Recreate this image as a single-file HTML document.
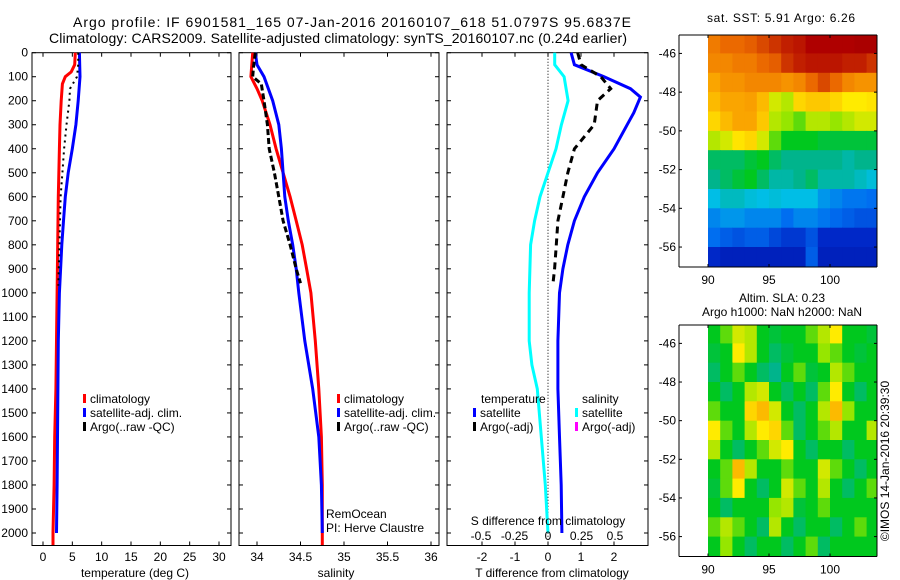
<!DOCTYPE html>
<html><head><meta charset="utf-8"><style>
html,body{margin:0;padding:0;background:#fff}
svg{display:block;font-family:"Liberation Sans",sans-serif}
</style></head><body>
<svg id="fig" width="900" height="580" viewBox="0 0 900 580" xmlns="http://www.w3.org/2000/svg">
<text x="352" y="27" text-anchor="middle" font-size="14" textLength="558">Argo profile: IF 6901581_165 07-Jan-2016 20160107_618 51.0797S 95.6837E</text>
<text x="338" y="43" text-anchor="middle" font-size="14" textLength="578">Climatology: CARS2009. Satellite-adjusted climatology: synTS_20160107.nc (0.24d earlier)</text>
<text x="781" y="22" text-anchor="middle" font-size="12" textLength="148">sat. SST: 5.91 Argo: 6.26</text>
<text x="782" y="302" text-anchor="middle" font-size="12">Altim. SLA: 0.23</text>
<text x="782" y="316" text-anchor="middle" font-size="12">Argo h1000: NaN h2000: NaN</text>
<text x="0" y="0" transform="translate(889,461) rotate(-90)" text-anchor="middle" font-size="12">©IMOS 14-Jan-2016 20:39:30</text>
<g id="g"></g>
</svg>
<script>
// ---- data ----
const depthTicks=[0,100,200,300,400,500,600,700,800,900,1000,1100,1200,1300,1400,1500,1600,1700,1800,1900,2000];
const tempTicks=[0,5,10,15,20,25,30];
const salTicks=[34,34.5,35,35.5,36];
const salTickLabels=["34","34.5","35","35.5","36"];
const tdTicks=[-2,-1,0,1,2];
const sdTicks=[-0.5,-0.25,0,0.25,0.5];
const sdTickLabels=["-0.5","-0.25","0","0.25","0.5"];
const climTempDepth=[0,50,80,100,130,200,300,400,600,800,1000,1200,1400,1600,1800,2000,2050];
const climTemp=[5.5,5.4,4.8,3.8,3.3,3.1,2.9,2.8,2.6,2.5,2.4,2.3,2.2,2.0,1.9,1.7,1.7];
const satTempDepth=[0,100,200,300,400,500,600,700,800,1000,1200,1500,1800,2000];
const satTemp=[6.2,6.3,6.0,5.6,5.0,4.3,3.8,3.5,3.2,2.8,2.6,2.5,2.4,2.3];
const argoTempDepth=[0,50,100,150,200,300,400,500,600,800,970];
const argoTemp=[6.0,6.0,5.8,4.6,4.5,4.0,3.6,3.3,3.0,2.8,2.6];
const climSalDepth=[0,100,150,200,300,400,500,600,700,800,900,1000,1200,1400,1600,1800,2050];
const climSal=[33.95,33.93,34.0,34.06,34.15,34.22,34.3,34.38,34.45,34.52,34.57,34.62,34.67,34.71,34.74,34.75,34.75];
const satSalDepth=[0,50,100,200,300,400,500,600,700,800,900,1000,1200,1400,1600,1800,2000];
const satSal=[33.98,34.0,34.08,34.18,34.25,34.28,34.3,34.32,34.36,34.41,34.45,34.48,34.55,34.64,34.71,34.74,34.75];
const argoSalDepth=[0,60,100,130,200,300,400,500,600,700,800,900,960];
const argoSal=[33.98,33.96,33.95,34.05,34.08,34.12,34.14,34.2,34.25,34.3,34.38,34.45,34.5];
const tdSatDepth=[0,50,100,150,185,250,300,400,500,600,700,800,900,1000,1200,1400,1600,1800,2000];
const tdSat=[0.7,0.8,1.7,2.5,2.8,2.6,2.4,2.0,1.5,1.1,0.8,0.6,0.45,0.35,0.3,0.3,0.35,0.4,0.42];
const tdArgoDepth=[0,50,100,150,200,300,400,500,600,700,800,900,960];
const tdArgo=[0.9,1.0,1.6,1.9,1.5,1.4,0.8,0.6,0.45,0.3,0.25,0.2,0.15];
const sdSatDepth=[0,50,100,200,300,400,500,600,700,800,1000,1200,1300,1400,1600,1800,2000];
const sdSat=[0.05,0.05,0.12,0.15,0.1,0.06,0.0,-0.06,-0.1,-0.13,-0.14,-0.14,-0.12,-0.08,-0.05,-0.02,0.0];
const latTicks=[-46,-48,-50,-52,-54,-56];
const lonTicks=[90,95,100];
const gridLats=[-45,-46,-47,-48,-49,-50,-51,-52,-53,-54,-55,-56];
const gridLons=[90,91,92,93,94,95,96,97,98,99,100,101,102,103];
const sstValues=[
[0.82,0.85,0.85,0.86,0.88,0.9,0.92,0.93,0.95,0.95,0.95,0.95,0.96,0.96],
[0.8,0.8,0.82,0.82,0.85,0.86,0.9,0.92,0.93,0.93,0.93,0.92,0.92,0.9],
[0.75,0.78,0.78,0.8,0.8,0.8,0.78,0.8,0.85,0.88,0.85,0.8,0.78,0.78],
[0.72,0.75,0.75,0.76,0.72,0.62,0.6,0.68,0.7,0.7,0.68,0.65,0.65,0.66],
[0.68,0.72,0.75,0.75,0.7,0.6,0.58,0.55,0.6,0.6,0.58,0.6,0.62,0.62],
[0.6,0.62,0.66,0.68,0.62,0.55,0.5,0.5,0.5,0.48,0.48,0.48,0.48,0.48],
[0.45,0.45,0.45,0.48,0.5,0.45,0.42,0.42,0.42,0.42,0.42,0.4,0.42,0.42],
[0.42,0.45,0.48,0.5,0.45,0.4,0.4,0.42,0.45,0.4,0.4,0.4,0.38,0.36],
[0.35,0.38,0.38,0.36,0.35,0.36,0.35,0.35,0.35,0.3,0.28,0.26,0.26,0.25],
[0.28,0.3,0.3,0.28,0.28,0.28,0.25,0.28,0.28,0.26,0.24,0.22,0.2,0.2],
[0.25,0.22,0.2,0.22,0.22,0.18,0.15,0.15,0.2,0.12,0.12,0.12,0.12,0.12],
[0.12,0.1,0.1,0.1,0.1,0.1,0.1,0.1,0.22,0.1,0.1,0.1,0.1,0.1]];
const slaValues=[
[0.5,0.55,0.62,0.6,0.5,0.48,0.5,0.5,0.55,0.6,0.65,0.5,0.5,0.48],
[0.48,0.5,0.65,0.6,0.5,0.45,0.48,0.5,0.5,0.58,0.55,0.5,0.48,0.5],
[0.45,0.5,0.55,0.5,0.45,0.42,0.5,0.55,0.48,0.5,0.6,0.55,0.5,0.5],
[0.5,0.45,0.5,0.6,0.62,0.5,0.45,0.5,0.45,0.55,0.65,0.5,0.45,0.5],
[0.55,0.5,0.5,0.68,0.72,0.62,0.5,0.45,0.5,0.6,0.72,0.58,0.5,0.5],
[0.65,0.55,0.5,0.6,0.65,0.68,0.55,0.45,0.5,0.55,0.6,0.5,0.5,0.6],
[0.6,0.5,0.45,0.5,0.55,0.62,0.65,0.5,0.45,0.5,0.5,0.45,0.5,0.5],
[0.5,0.55,0.72,0.6,0.5,0.5,0.55,0.5,0.5,0.62,0.55,0.5,0.45,0.5],
[0.48,0.55,0.65,0.5,0.45,0.5,0.62,0.55,0.5,0.6,0.5,0.45,0.5,0.55],
[0.5,0.45,0.5,0.5,0.5,0.58,0.6,0.48,0.5,0.55,0.5,0.5,0.5,0.5],
[0.55,0.6,0.55,0.5,0.45,0.6,0.5,0.45,0.5,0.5,0.45,0.5,0.55,0.5],
[0.5,0.58,0.5,0.45,0.5,0.5,0.45,0.5,0.55,0.45,0.5,0.5,0.5,0.5]];

// ---- helpers ----
const NS="http://www.w3.org/2000/svg";
const root=document.getElementById('g');
function mk(tag,attrs,parent){const e=document.createElementNS(NS,tag);for(const k in attrs)e.setAttribute(k,attrs[k]);(parent||root).appendChild(e);return e;}
function lin(d0,d1,r0,r1){return v=>r0+(v-d0)*(r1-r0)/(d1-d0);}
const TOP=52.7,BOT=545.5;
const yDepth=lin(0,2000,52.7,533);
const CM=[[0,0,0,130],[0.12,0,40,200],[0.25,0,110,240],[0.35,0,190,230],[0.42,0,180,140],[0.5,0,200,30],[0.58,150,230,0],[0.65,255,235,0],[0.75,250,165,0],[0.85,235,105,0],[0.95,175,0,0],[1,150,0,0]];
function cmap(v){v=Math.max(0,Math.min(1,v));
 for(let i=1;i<CM.length;i++){if(v<=CM[i][0]){const a=CM[i-1],b=CM[i],t=(v-a[0])/(b[0]-a[0]);
  return `rgb(${Math.round(a[1]+t*(b[1]-a[1]))},${Math.round(a[2]+t*(b[2]-a[2]))},${Math.round(a[3]+t*(b[3]-a[3]))})`;}}
 return 'rgb(150,0,0)';}

function panel(name,x0,x1,xs,ticks,labels,showDepth){
 const gp=mk('g',{});
 
 
 const fr=mk('rect',{x:x0,y:TOP,width:x1-x0,height:BOT-TOP,fill:'none',stroke:'#000','stroke-width':1},gp);
 
 
 depthTicks.forEach(d=>{const y=yDepth(d);
  mk('line',{x1:x0,x2:x0+4,y1:y,y2:y,stroke:'#000'},gp);
  mk('line',{x1:x1-4,x2:x1,y1:y,y2:y,stroke:'#000'},gp);
  if(showDepth){const t=mk('text',{x:x0-4,y:y+4,'text-anchor':'end','font-size':12},gp);t.textContent=d;
   
   }
 });
 ticks.forEach((v,i)=>{const x=xs(v);
  mk('line',{x1:x,x2:x,y1:BOT,y2:BOT-4,stroke:'#000'},gp);
  mk('line',{x1:x,x2:x,y1:TOP,y2:TOP+4,stroke:'#000'},gp);
  if(labels){const t=mk('text',{x:x,y:561,'text-anchor':'middle','font-size':12},gp);t.textContent=labels[i];
   
   }
 });
 return gp;
}
function line(gp,name,xs,vals,depths,color,dash,w){
 const pts=vals.map((v,i)=>xs(v).toFixed(1)+','+yDepth(depths[i]).toFixed(1)).join(' ');
 const p=mk('polyline',{points:pts,fill:'none',stroke:color,'stroke-width':w||3,'stroke-dasharray':dash||'none'},gp);
 
 
}
function txt(gp,name,x,y,s,anchor,size){const t=mk('text',{x:x,y:y,'font-size':size||12,'text-anchor':anchor||'start'},gp);t.textContent=s;
 
 return t;}
function legend(gp,x,y,color,label){
 const r=mk('rect',{x:x,y:y-5,width:3,height:9,fill:color},gp);
 
 
 txt(gp,'legend-entry',x+7,y+4,label);
}

// Panel 1 temperature
const xT=lin(0,30,43,219);
const p1=panel('temperature-panel',32,231,xT,tempTicks,tempTicks.map(String),true);
line(p1,'temp-climatology-line',xT,climTemp,climTempDepth,'#f00');
line(p1,'temp-satellite-line',xT,satTemp,satTempDepth,'#00f');
line(p1,'temp-argo-line',xT,argoTemp,argoTempDepth,'#000','2,4',2);
txt(p1,'x-axis-title',135,577,'temperature (deg C)','middle');
legend(p1,83,399,'#f00','climatology');
legend(p1,83,413,'#00f','satellite-adj. clim.');
legend(p1,83,427,'#000','Argo(..raw -QC)');

// Panel 2 salinity
const xS=lin(34,36,257,431);
const p2=panel('salinity-panel',239,439,xS,salTicks,salTickLabels,false);
line(p2,'sal-climatology-line',xS,climSal,climSalDepth,'#f00');
line(p2,'sal-satellite-line',xS,satSal,satSalDepth,'#00f');
line(p2,'sal-argo-line',xS,argoSal,argoSalDepth,'#000','6,3',3);
txt(p2,'x-axis-title',336,577,'salinity','middle');
legend(p2,337,399,'#f00','climatology');
legend(p2,337,413,'#00f','satellite-adj. clim.');
legend(p2,337,427,'#000','Argo(..raw -QC)');
txt(p2,'remocean-label',326,518,'RemOcean');
txt(p2,'pi-label',326,532,'PI: Herve Claustre');

// Panel 3 differences
const xTD=lin(0,2,548,614);
const xSD=lin(0,0.5,548,615);
const p3=panel('difference-panel',447,648,xTD,tdTicks,tdTicks.map(String),false);
mk('line',{x1:xTD(0),x2:xTD(0),y1:TOP,y2:BOT,stroke:'#000','stroke-dasharray':'1,2'},p3);
line(p3,'sal-diff-satellite-line',xSD,sdSat,sdSatDepth,'#0ff');
line(p3,'temp-diff-satellite-line',xTD,tdSat,tdSatDepth,'#00f');
line(p3,'temp-diff-argo-line',xTD,tdArgo,tdArgoDepth,'#000','7,5',3);
sdTicks.forEach((v,i)=>{txt(p3,'s-tick-label',xSD(v),540,sdTickLabels[i],'middle');});
txt(p3,'s-axis-title',548,525,'S difference from climatology','middle');
txt(p3,'x-axis-title',552,577,'T difference from climatology','middle');
txt(p3,'legend-title',481,403,'temperature');
legend(p3,473,413,'#00f','satellite');
legend(p3,473,427,'#000','Argo(-adj)');
txt(p3,'legend-title',582,403,'salinity');
legend(p3,575,413,'#0ff','satellite');
legend(p3,575,427,'#f0f','Argo(-adj)');

// Maps
function map(name,top,bot,vals){
 const gm=mk('g',{});
 
 
 const x0=679,x1=877;
 const xL=lin(90,100,708,830);
 const yL=lin(-46,-56,top+(bot-top)*0.0794,top+(bot-top)*0.914);
 const clipId=name+'-clip';
 const cp=mk('clipPath',{id:clipId},gm);
 mk('rect',{x:x0,y:top,width:x1-x0,height:bot-top},cp);
 const cells=mk('g',{'clip-path':`url(#${clipId})`},gm);
 vals.forEach((row,r)=>row.forEach((v,c)=>{
  if(v===null)return;
  const xa=xL(gridLons[c]),xb=xL(gridLons[c]+1),ya=yL(gridLats[r]),yb=yL(gridLats[r]-1);
  const rc=mk('rect',{x:xa.toFixed(1),y:ya.toFixed(1),width:(xb-xa+0.6).toFixed(1),height:(yb-ya+0.6).toFixed(1),fill:cmap(v)},cells);
  
  
 }));
 mk('line',{x1:x0,x2:x1,y1:top,y2:top,stroke:'#000'},gm);
 mk('line',{x1:x0,x2:x1,y1:bot,y2:bot,stroke:'#000'},gm);
 mk('line',{x1:x0,x2:x0,y1:top,y2:bot,stroke:'#000'},gm);
 mk('line',{x1:x1,x2:x1,y1:top,y2:bot,stroke:'#000'},gm);
 latTicks.forEach(v=>{const y=yL(v);
  mk('line',{x1:x0,x2:x0+3,y1:y,y2:y,stroke:'#000'},gm);
  mk('line',{x1:x1-3,x2:x1,y1:y,y2:y,stroke:'#000'},gm);
  txt(gm,'lat-tick-label',x0-3,y+4,String(v),'end');});
 lonTicks.forEach(v=>{const x=xL(v);
  mk('line',{x1:x,x2:x,y1:bot,y2:bot-3,stroke:'#000'},gm);
  mk('line',{x1:x,x2:x,y1:top,y2:top+3,stroke:'#000'},gm);
  txt(gm,'lon-tick-label',x,bot+17,String(v),'middle');});
}
map('sst-map',35,267,sstValues);
map('sla-map',325,556.5,slaValues);
</script>
</body></html>
